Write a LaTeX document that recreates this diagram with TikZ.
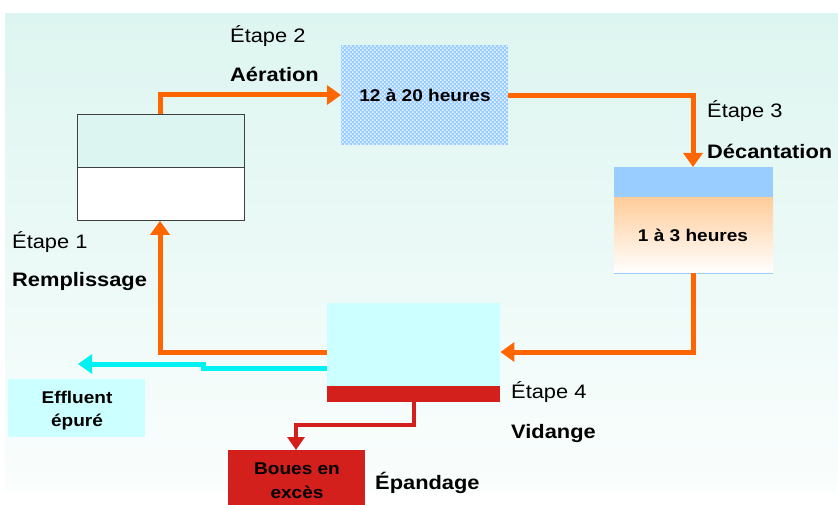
\documentclass[tikz,border=0pt]{standalone}
\usepackage{fontspec}
\setmainfont{Liberation Sans}[FakeStretch=1.12]
\usetikzlibrary{arrows.meta,patterns}
\pgfdeclarepatternformonly{bluedots}{\pgfqpoint{-1pt}{-1pt}}{\pgfqpoint{5pt}{5pt}}{\pgfqpoint{4pt}{4pt}}{%
  \pgfpathrectangle{\pgfqpoint{0pt}{0pt}}{\pgfqpoint{1.7pt}{1.7pt}}%
  \pgfpathrectangle{\pgfqpoint{2pt}{2pt}}{\pgfqpoint{1.7pt}{1.7pt}}%
  \pgfusepath{fill}}
\definecolor{mint}{HTML}{DDF5F0}
\definecolor{bgbot}{HTML}{FAFEFD}
\definecolor{orng}{HTML}{FF6600}
\definecolor{cyanl}{HTML}{00F2F2}
\definecolor{paleCyan}{HTML}{CCFFFF}
\definecolor{redd}{HTML}{D4201C}
\definecolor{skyb}{HTML}{99CCFF}
\definecolor{peach}{HTML}{FFCC99}
\tikzset{
  lbl/.style={anchor=base west,inner sep=0pt,font=\fontsize{19.5}{22}\selectfont},
  blbl/.style={lbl,font=\fontsize{19.5}{22}\selectfont\bfseries},
  intext/.style={anchor=base,inner sep=0pt,font=\fontsize{17}{20}\selectfont\bfseries},
  flow/.style={draw=orng,line width=5pt,-{Triangle[width=19pt,length=14pt]}},
  bx/.style={inner sep=0pt,anchor=north west},
}
\begin{document}
\begin{tikzpicture}[x=1pt,y=-1pt]
\useasboundingbox (0,0) rectangle (838,505);
\fill[white] (0,0) rectangle (838,505);
\shade[top color=mint,bottom color=bgbot] (5,14) rectangle (838,492);
% boxes
\node[bx,draw=black!75,line width=0.8pt,fill=white,minimum width=167pt,minimum height=106pt] (b1) at (77,114) {};
\fill[mint] ([xshift=0.4pt,yshift=-0.4pt]b1.north west) rectangle ([xshift=-0.4pt]b1.east |- 0,167);
\draw[black!75,line width=0.8pt] (b1.west |- 0,167) -- (b1.east |- 0,167);
\draw[black!75,line width=0.8pt] (b1.north west) rectangle (b1.south east);
\node[bx,minimum width=167pt,minimum height=100pt,fill=skyb,
  postaction={pattern=bluedots,pattern color=white!80!skyb}] (b2) at (341,45) {};
\node[intext] (t2) at (425,102) {12 à 20 heures};
\node[bx,minimum width=159pt,minimum height=106pt] (b3) at (614,167) {};
\shade[top color=peach,bottom color=white] (614,197) rectangle (773,273);
\fill[skyb] (614,167) rectangle (773,197);
\draw[skyb,line width=0.6pt] (614,273) -- (773,273);
\node[intext] (t3) at (693,242) {1 à 3 heures};
\node[bx,minimum width=173pt,minimum height=83pt,fill=paleCyan] (b4) at (327,303) {};
\node[bx,minimum width=173pt,minimum height=16pt,fill=redd] (bar) at (327,386) {};
\node[bx,minimum width=137pt,minimum height=58pt,fill=paleCyan] (eff) at (8,379) {};
\node[intext] (eff1) at (77,403) {Effluent};
\node[intext] (eff2) at (77,426) {épuré};
\node[bx,minimum width=137pt,minimum height=60pt,fill=redd] (boues) at (228,450) {};
\node[intext] (bo1) at (297,474) {Boues en};
\node[intext] (bo2) at (297,498) {excès};
% labels
\node[lbl] (e2) at (230,43) {Étape 2};
\node[blbl] (a2) at (230,82) {Aération};
\node[lbl] (e3) at (707,118) {Étape 3};
\node[blbl] (a3) at (707,159) {Décantation};
\node[lbl] (e1) at (12,248) {Étape 1};
\node[blbl] (a1) at (12,287) {Remplissage};
\node[lbl] (e4) at (511,398) {Étape 4};
\node[blbl] (a4) at (511,438) {Vidange};
\node[blbl] (ep) at (375,489) {Épandage};
% connectors
\coordinate (c1) at (160,95);
\coordinate (c2) at (693,96);
\coordinate (c3) at (693,352);
\coordinate (c4) at (160,352);
\draw[flow] (b1.north -| c1) |- (b2.west |- c1);
\draw[flow] (b2.east |- c2) -| (b3.north -| c2);
\draw[flow] (b3.south -| c3) |- (b4.east |- c3);
\draw[flow] (b4.west |- c4) -| (b1.south -| c4);
\coordinate (k1) at (203,368);
\coordinate (k2) at (203,364);
\draw[draw=cyanl,line width=5pt,-{Triangle[width=19pt,length=14pt]}]
  (b4.west |- k1) -- (k1) -- (k2) -- (78,364);
\coordinate (r1) at (414,425);
\coordinate (r2) at (296,425);
\draw[draw=redd,line width=4pt,-{Triangle[width=17pt,length=13pt]}]
  (bar.south -| r1) -- (r1) -- (r2) -- (boues.north -| r2);
\end{tikzpicture}
\end{document}
